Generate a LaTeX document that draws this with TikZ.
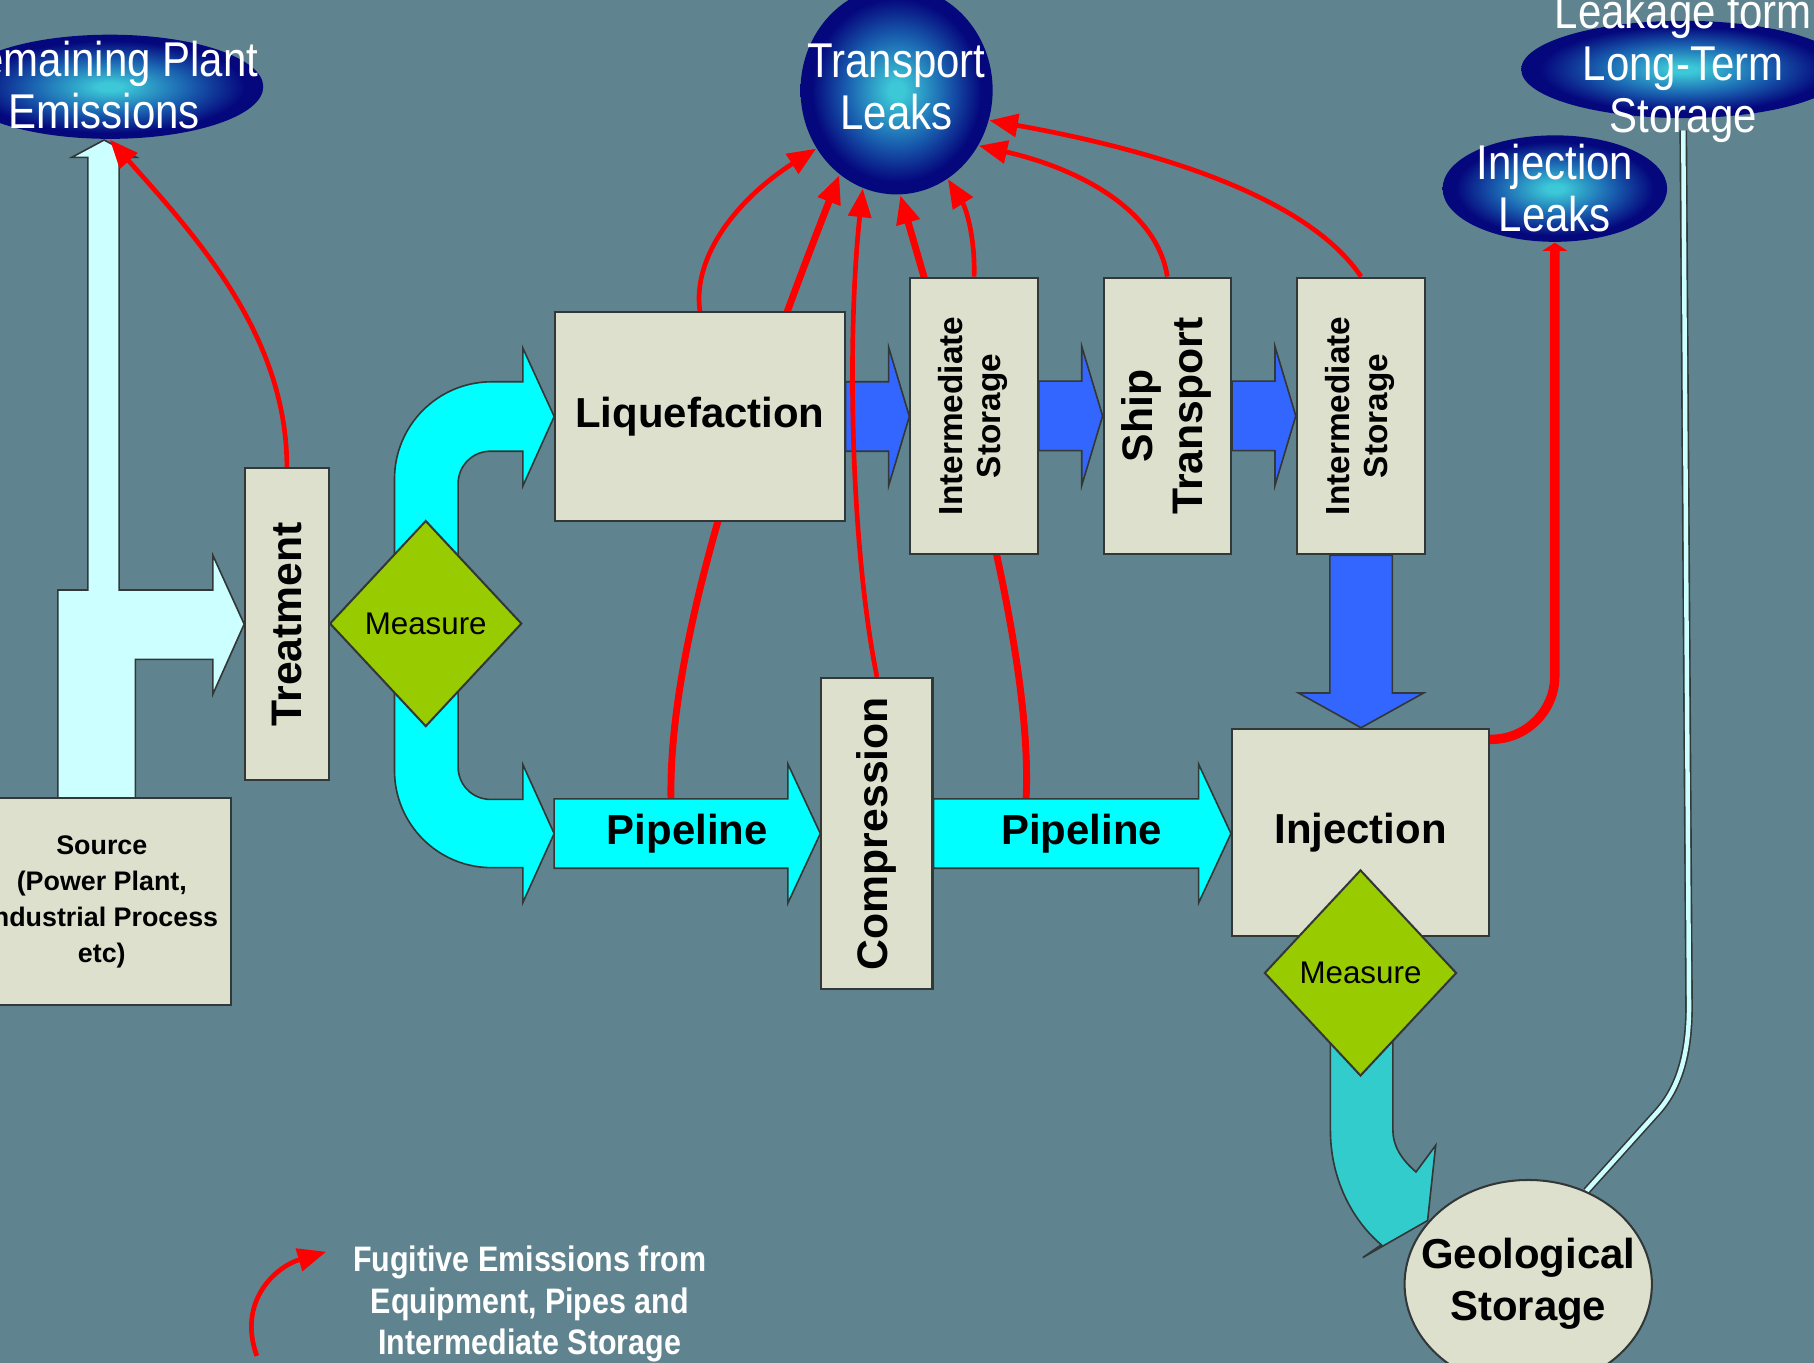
\documentclass[tikz,border=0pt]{standalone}
\usepackage{fontspec}
\setmainfont{Liberation Sans}
\newfontfamily\narrowsans[FakeStretch=0.86]{Liberation Sans}
\usetikzlibrary{calc,positioning,shapes.geometric,arrows.meta}

\definecolor{slide}{RGB}{96,132,143}
\definecolor{paper}{RGB}{221,224,204}
\definecolor{edge}{RGB}{50,55,55}
\definecolor{measgreen}{RGB}{153,204,0}
\definecolor{pipecyan}{RGB}{0,255,255}
\definecolor{shipblue}{RGB}{51,102,255}
\definecolor{palecyan}{RGB}{204,255,255}
\definecolor{groundteal}{RGB}{51,204,204}
\definecolor{blobin}{RGB}{60,200,215}
\definecolor{blobmid}{RGB}{25,95,175}
\definecolor{blobout}{RGB}{5,8,125}

\pgfdeclareradialshading{blob}{\pgfpoint{0bp}{0bp}}{color(0bp)=(blobin); color(2bp)=(blobin); color(13bp)=(blobmid); color(22bp)=(blobout); color(50bp)=(blobout)}

\pgfdeclarelayer{bg}\pgfdeclarelayer{flow}\pgfdeclarelayer{leak}
\pgfsetlayers{bg,flow,leak,main}

% block arrows between two anchors: style, from, to, half shaft, head length
\newcommand\hblock[5]{%
  \filldraw[#1] let \p1=(#2), \p2=(#3) in
    (\x1,\y1+#4) -- (\x2-#5,\y1+#4) -- (\x2-#5,\y1+2*#4) -- (\x2,\y1)
    -- (\x2-#5,\y1-2*#4) -- (\x2-#5,\y1-#4) -- (\x1,\y1-#4) -- cycle;}
\newcommand\vblock[5]{%
  \filldraw[#1] let \p1=(#2), \p2=(#3) in
    (\x1-#4,\y1) -- (\x1-#4,\y2+#5) -- (\x1-2*#4,\y2+#5) -- (\x1,\y2)
    -- (\x1+2*#4,\y2+#5) -- (\x1+#4,\y2+#5) -- (\x1+#4,\y1) -- cycle;}
\newcommand\vtext[1]{\rotatebox{90}{\begin{tabular}{@{}c@{}}#1\end{tabular}}}

\begin{document}
\begin{tikzpicture}[x=0.01cm,y=-0.01cm,
  box/.style={draw=edge,fill=paper,line width=0.5pt,inner sep=0pt,align=center,
    font=\bfseries\fontsize{10.3}{12.8}\selectfont},
  vbox/.style={box,font=\bfseries\fontsize{10.5}{12.2}\selectfont},
  smallvbox/.style={box,font=\bfseries\fontsize{8.2}{9.4}\selectfont},
  measure/.style={diamond,draw=edge,fill=measgreen,line width=0.5pt,inner sep=0pt,
    minimum width=1.66cm,minimum height=1.78cm,font=\fontsize{7.7}{9}\selectfont},
  blob/.style={ellipse,shade,shading=blob,inner sep=0pt},
  blobtext/.style={text=white,align=center,font=\narrowsans\fontsize{12}{12.8}\selectfont},
  pipetext/.style={inner sep=0pt,minimum height=0.6cm,font=\bfseries\fontsize{10.3}{12}\selectfont},
  legendtext/.style={text=white,align=center,font=\narrowsans\bfseries\fontsize{8.7}{10.2}\selectfont},
  paleflow/.style={fill=palecyan,draw=edge,line width=0.4pt},
  cyanflow/.style={fill=pipecyan,draw=edge,line width=0.4pt},
  blueflow/.style={fill=shipblue,draw=edge,line width=0.4pt},
  tealflow/.style={fill=groundteal,draw=edge,line width=0.4pt},
  fugitive/.style={draw=red,line width=1.15pt,-{Triangle[length=7pt,width=5.6pt]}},
  seep/.style={draw=edge,line width=0.4pt,double=palecyan,double distance=1.1pt}]

\useasboundingbox (0,0) rectangle (1568,1178);
\begin{pgfonlayer}{bg}
  \fill[slide] (0,0) rectangle (1568,1178);
\end{pgfonlayer}

% process chain
\node[box,minimum width=2.24cm,minimum height=1.79cm,font=\bfseries\fontsize{6.6}{8.8}\selectfont]
  (src) at (88,779.5) {Source\\(Power Plant,\\Industrial Process\\etc)};
\node[vbox,minimum width=.72cm,minimum height=2.69cm] (treat) at (248,539.5) {\rotatebox{90}{Treatment}};
\node[measure] (measa) at (368,539) {Measure};
\node[box,minimum width=2.5cm,minimum height=1.8cm] (liq) at (605,360) {Liquefaction};
\node[smallvbox,minimum width=1.1cm,minimum height=2.39cm] (isa) at (842,359.5) {\vtext{Intermediate\\Storage}};
\node[vbox,minimum width=1.1cm,minimum height=2.39cm] (ship) at (1009,359.5) {\vtext{Ship\\Transport}};
\node[smallvbox,minimum width=1.11cm,minimum height=2.39cm] (isb) at (1176.5,359.5) {\vtext{Intermediate\\Storage}};
\node[vbox,minimum width=.96cm,minimum height=2.69cm] (comp) at (758,720.5) {\rotatebox{90}{Compression}};
\node[box,minimum width=2.22cm,minimum height=1.79cm] (inj) at (1176,719.5) {Injection};
\node[measure] (measb) at (1176,841) {Measure};
\node[box,ellipse,inner xsep=-0.17cm,minimum width=2.12cm,minimum height=1.8cm] (geo) at (1321,1110) {Geological\\Storage};
\node[pipetext] (pipea) at (594,720.5) {Pipeline};
\node[pipetext] (pipeb) at (935,720.5) {Pipeline};
\coordinate (uend) at (479,720.5);

% emission sinks
\node[blob,minimum width=2.65cm,minimum height=.9cm] (rpe) at (95,75) {};
\node[blobtext] (rpe-t) at (90,73.5) {Remaining Plant\\Emissions};
\node[blob,minimum width=1.66cm,minimum height=1.8cm] (tleaks) at (775,78) {};
\node[blobtext] (tleaks-t) at (775,75.5) {Transport\\Leaks};
\node[blob,minimum width=2.8cm,minimum height=.84cm] (lts) at (1455,60) {};
\node[blobtext] (lts-t) at (1455,58.5) {Leakage form\\Long-Term\\Storage};
\node[blob,minimum width=1.94cm,minimum height=.92cm] (ileaks) at (1344,163) {};
\node[blobtext] (ileaks-t) at (1344,162.5) {Injection\\Leaks};

% legend
\node[legendtext] (legend) at (458,1127.5) {Fugitive Emissions from\\Equipment, Pipes and\\Intermediate Storage};
\coordinate (legfoot) at (222,1172);
\coordinate (legtip) at (282,1082);

\begin{pgfonlayer}{flow}
  % flue gas: stack and treatment
  \filldraw[paleflow] (50,690) -- (50,510) -- (76,510) -- (76,136) -- (62,136) -- (90,121)
    -- (118,136) -- (103,136) -- (103,510) -- (184,510) -- (184,480) -- (treat.west)
    -- (184,600) -- (184,570) -- (117,570) -- (117,690) -- cycle;
  % split to ship or pipeline
  \filldraw[cyanflow] (liq.west) -- (452,420) -- (452,390) -- (424,390)
    .. controls (408.5,390) and (396,402.5) .. (396,418) -- (396,663)
    .. controls (396,678.5) and (408.5,691) .. (424,691) -- (452,691) -- (452,661)
    -- (uend) -- (452,780) -- (452,750) -- (425,750)
    .. controls (378.6,750) and (341,712.4) .. (341,666) -- (341,414)
    .. controls (341,367.6) and (378.6,330) .. (425,330) -- (452,330) -- (452,301) -- cycle;
  \hblock{cyanflow}{uend}{comp.west}{.3cm}{.28cm}
  \hblock{cyanflow}{comp.east}{inj.west}{.3cm}{.28cm}
  \hblock{blueflow}{liq.east}{isa.west}{.3cm}{.18cm}
  \hblock{blueflow}{isa.east}{ship.west}{.3cm}{.18cm}
  \hblock{blueflow}{ship.east}{isb.west}{.3cm}{.18cm}
  \vblock{blueflow}{isb.south}{inj.north}{.27cm}{.3cm}
  % into the ground
  \filldraw[tealflow] (1150,850) -- (1150,977) .. controls (1150,1018) and (1168,1054) .. (1194,1076)
    -- (1178,1087) -- (1234,1055) -- (1241,990) -- (1224,1013)
    .. controls (1211,1002) and (1204,990) .. (1204,977) -- (1204,850) -- cycle;
  \draw[seep] (geo.58) -- (1432,962) .. controls (1452,940) and (1460,910) .. (1460,870)
    -- ([yshift=-.1cm]lts.south);
\end{pgfonlayer}

\begin{pgfonlayer}{leak}
  \draw[fugitive] (treat.north) .. controls (248,290) and (170,205) .. (rpe.south);
  \draw[fugitive] (liq.north) .. controls (598,220) and (640,170) .. (tleaks.216);
  \draw[fugitive,line width=1.7pt] ([xshift=-.14cm]pipea.north) .. controls (578,560) and (640,370) .. (tleaks.236);
  \draw[fugitive] (comp.north) .. controls (735,470) and (732,290) .. (tleaks.251);
  \draw[fugitive,line width=1.7pt] ([xshift=-.48cm]pipeb.north) .. controls (893,560) and (828,340) .. (tleaks.-88);
  \draw[fugitive] (isa.north) .. controls (843,205) and (835,180) .. (tleaks.-60);
  \draw[fugitive] (ship.north) .. controls (1000,180) and (930,145) .. (tleaks.-34);
  \draw[fugitive] (isb.north) .. controls (1130,170) and (1000,130) .. (tleaks.-18);
  \draw[fugitive,line width=2.3pt,rounded corners=.55cm,-{Triangle[length=2pt,width=6pt]}]
    ([yshift=-.1cm]inj.north east) -| (ileaks.south);
  \draw[fugitive] (legfoot) .. controls (205,1125) and (238,1095) .. (legtip);
\end{pgfonlayer}
\end{tikzpicture}
\end{document}
